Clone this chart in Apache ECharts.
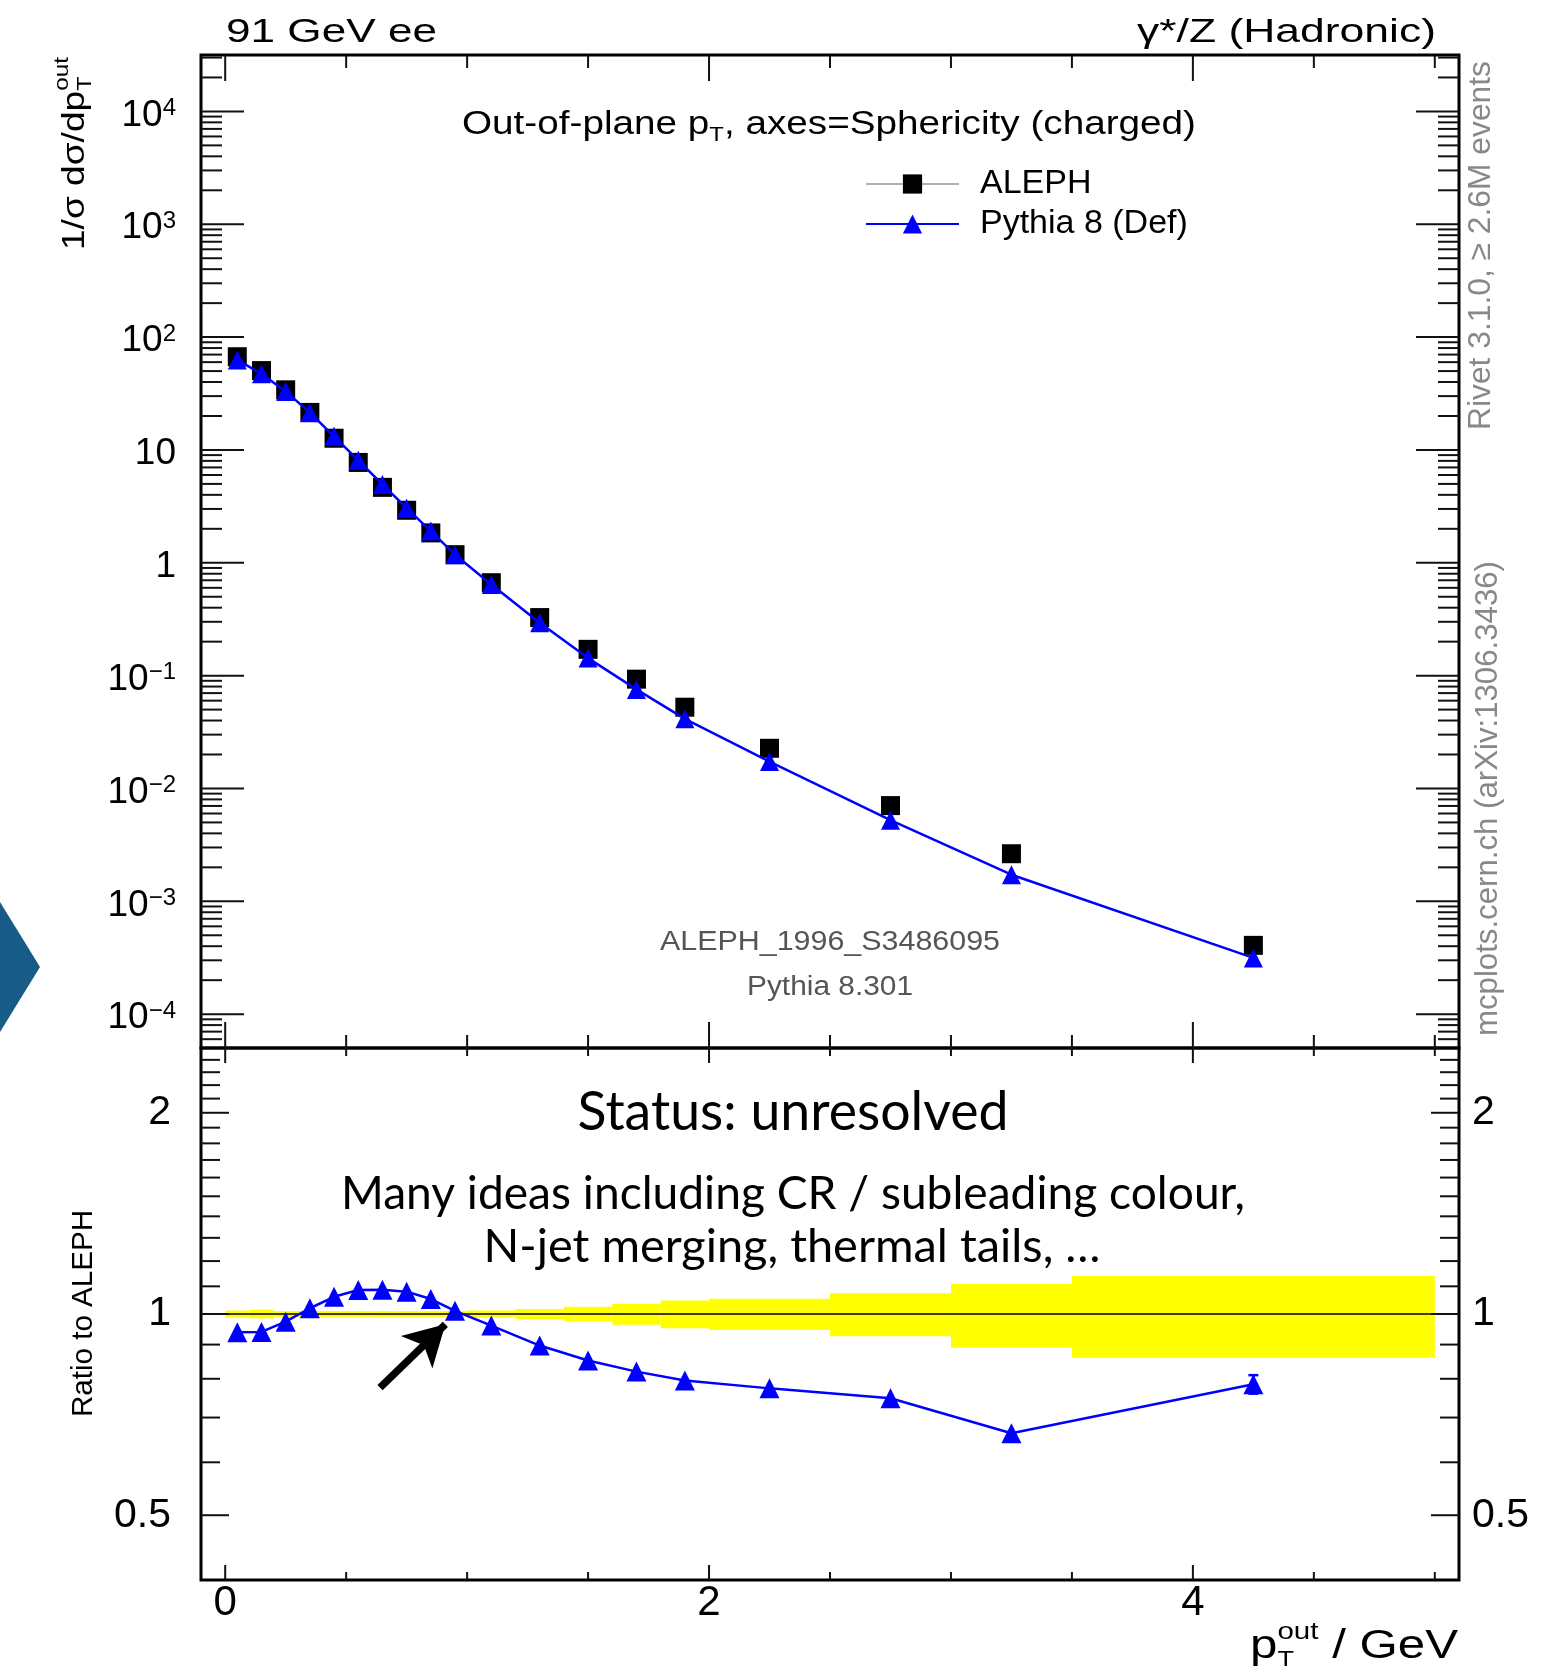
<!DOCTYPE html>
<html>
<head>
<meta charset="utf-8">
<title>Out-of-plane pT, ALEPH vs Pythia 8</title>
<script src="https://cdn.jsdelivr.net/npm/echarts@6/dist/echarts.min.js"></script>
<style>
  html, body { margin: 0; padding: 0; background: #fff; }
  #chart { width: 1553px; height: 1675px; }
</style>
</head>
<body>
<div id="chart"></div>
<script>
  // bins of p_T^out (GeV) and the points drawn at the bin centres
  const binEdges = [0, 0.1, 0.2, 0.3, 0.4, 0.5, 0.6, 0.7, 0.8, 0.9, 1.0, 1.2, 1.4, 1.6, 1.8, 2.0, 2.5, 3.0, 3.5, 5.0]
  const binCentres = [0.05, 0.15, 0.25, 0.35, 0.45, 0.55, 0.65, 0.75, 0.85, 0.95, 1.1, 1.3, 1.5, 1.7, 1.9, 2.25, 2.75, 3.25, 4.25]

  // 1/sigma dsigma/dpT
  const alephValues = [67, 50.5, 34.1, 21.5, 12.7, 7.75, 4.66, 2.92, 1.84, 1.18, 0.666, 0.327, 0.171, 0.093, 0.0525, 0.0227, 0.00705, 0.00264, 0.000407]
  const pythiaValues = [62.8, 47.3, 33.0, 21.4, 13.2, 8.1, 4.95, 3.05, 1.91, 1.18, 0.642, 0.294, 0.143, 0.0755, 0.0414, 0.0173, 0.00523, 0.00172, 0.000315]

  // ratio panel
  const ratioValues = [0.939, 0.940, 0.974, 1.02, 1.061, 1.086, 1.087, 1.080, 1.053, 1.011, 0.961, 0.897, 0.852, 0.820, 0.795, 0.774, 0.748, 0.663, 0.785]
  const ratioErrors = [0, 0, 0, 0, 0, 0, 0, 0, 0, 0, 0, 0, 0, 0, 0, 0, 0, 0, 0.025]
  const alephBand = [0.012, 0.015, 0.010, 0.010, 0.010, 0.010, 0.010, 0.010, 0.010, 0.010, 0.012, 0.017, 0.025, 0.036, 0.048, 0.054, 0.074, 0.11, 0.14]

  // tick labels
  const xTickLabels = [0, 2, 4]
  const ratioTickLabels = [0.5, 1, 2]

  // annotation arrow (data coords in the ratio panel)
  const arrowFrom = [0.64, 0.776]
  const arrowTo = [0.91, 0.965]

  const SANS = '"Liberation Sans", Arial, Helvetica, sans-serif'
  const SLIDE = 'Lato, "Open Sans", sans-serif'
  const BLUE = '#0000ff'

  const yMin = Math.pow(10, -4.3)
  const yMax = Math.pow(10, 4.5)

  // ---- tick lists (drawn on all four sides like the ROOT frame) ----
  function xTicks(majorLen, minorLen) {
    const out = []
    for (let i = 0; i <= 10; i++) {
      const v = i * 0.5
      out.push([v, 1, (i % 4 === 0) ? majorLen : minorLen, 0])
    }
    return out
  }
  function logTicks(lo, hi, majorLen, minorLen) {
    const out = []
    for (let e = -6; e <= 5; e++) {
      for (let k = 1; k <= 9; k++) {
        const v = k * Math.pow(10, e)
        if (v > lo * 1.001 && v < hi * 0.999) out.push([0, v, k === 1 ? majorLen : minorLen, 1])
      }
    }
    return out
  }
  const upperTicks = xTicks(26, 13).concat(logTicks(yMin, yMax, 43, 21))
  const lowerTicks = xTicks(15, 8)
  ;[0.5, 0.6, 0.7, 0.8, 0.9, 1, 1.1, 1.2, 1.3, 1.4, 1.5, 1.6, 1.7, 1.8, 1.9, 2, 2.1, 2.2, 2.3, 2.4].forEach(v => {
    lowerTicks.push([0, v, ratioTickLabels.indexOf(v) >= 0 ? 28 : 19, 1])
  })

  function renderTicks(params, api) {
    const cs = params.coordSys
    const len = api.value(2)
    const style = {stroke: '#111', lineWidth: 2}
    if (api.value(3) === 0) {
      const px = api.coord([api.value(0), 1])[0]
      return {
        type: 'group',
        children: [
          {type: 'line', shape: {x1: px, y1: cs.y, x2: px, y2: cs.y + len}, style: style},
          {type: 'line', shape: {x1: px, y1: cs.y + cs.height, x2: px, y2: cs.y + cs.height - len}, style: style}
        ]
      }
    }
    const py = api.coord([0, api.value(1)])[1]
    return {
      type: 'group',
      children: [
        {type: 'line', shape: {x1: cs.x, y1: py, x2: cs.x + len, y2: py}, style: style},
        {type: 'line', shape: {x1: cs.x + cs.width, y1: py, x2: cs.x + cs.width - len, y2: py}, style: style}
      ]
    }
  }

  function renderBand(params, api) {
    const p0 = api.coord([api.value(0), 1 + api.value(2)])
    const p1 = api.coord([api.value(1), 1 - api.value(2)])
    return {
      type: 'rect',
      shape: {x: p0[0], y: p0[1], width: p1[0] - p0[0], height: p1[1] - p0[1]},
      style: {fill: '#ffff00'}
    }
  }

  function renderErr(params, api) {
    const x = api.value(0), r = api.value(1), e = api.value(2)
    const top = api.coord([x, r + e])
    const bot = api.coord([x, r - e])
    const style = {stroke: BLUE, lineWidth: 2.5}
    return {
      type: 'group',
      children: [
        {type: 'line', shape: {x1: top[0], y1: top[1], x2: bot[0], y2: bot[1]}, style: style},
        {type: 'line', shape: {x1: top[0] - 5, y1: top[1], x2: top[0] + 5, y2: top[1]}, style: style},
        {type: 'line', shape: {x1: bot[0] - 5, y1: bot[1], x2: bot[0] + 5, y2: bot[1]}, style: style}
      ]
    }
  }

  // ---- text helper: runs of text with sub/superscripts, stretched to a width ----
  const measureCtx = document.createElement('canvas').getContext('2d')
  function measure(t, size, family) {
    measureCtx.font = size + 'px ' + family
    return measureCtx.measureText(t).width
  }
  function textRun(segs, o) {
    const fam = o.family || SANS
    const kids = []
    let x = 0
    segs.forEach(s => {
      const t = s[0], size = s[1], dy = s[2] || 0
      kids.push({
        type: 'text', x: x, y: dy,
        style: {text: t, font: size + 'px ' + fam, fill: o.color || '#000', align: 'left', verticalAlign: 'middle'}
      })
      x += (s[3] === undefined) ? measure(t, size, fam) : s[3]
    })
    const shift = o.align === 'center' ? -x / 2 : (o.align === 'right' ? -x : 0)
    kids.forEach(k => { k.x += shift })
    return {
      type: 'group', x: o.x, y: o.y, rotation: o.rotation || 0,
      scaleX: o.width ? o.width / x : 1, silent: true, children: kids
    }
  }

  const upperLabel = v => {
    const l = Math.log10(v)
    const e = Math.round(l)
    if (Math.abs(l - e) > 1e-6) return ''
    if (e === 0) return '{b|1}'
    if (e === 1) return '{b|10}'
    return '{b|10}{s|' + (e < 0 ? '\u2212' : '') + Math.abs(e) + '}'
  }
  const ratioLabel = v => {
    for (const t of ratioTickLabels) if (Math.abs(v - t) < 1e-6) return String(t)
    return ''
  }
  const xLabel = v => {
    for (const t of xTickLabels) if (Math.abs(v - t) < 1e-6) return String(t)
    return ''
  }

  const outW = measure('out', 24, SANS)
  const outWy = measure('out', 21, SANS)

  const chart = echarts.init(document.getElementById('chart'))
  chart.setOption({
    animation: false,
    backgroundColor: '#fff',
    grid: [
      {left: 201, top: 55, width: 1258, height: 993, show: true, borderColor: '#000', borderWidth: 3,
        backgroundColor: 'transparent', containLabel: false, outerBoundsMode: 'none'},
      {left: 201, top: 1048, width: 1258, height: 532, show: true, borderColor: '#000', borderWidth: 3,
        backgroundColor: 'transparent', containLabel: false, outerBoundsMode: 'none'}
    ],
    xAxis: [
      {gridIndex: 0, type: 'value', min: -0.1, max: 5.1,
        axisLine: {show: false}, axisTick: {show: false}, splitLine: {show: false}, axisLabel: {show: false}},
      {gridIndex: 1, type: 'value', min: -0.1, max: 5.1,
        axisLine: {show: false}, axisTick: {show: false}, splitLine: {show: false},
        axisLabel: {formatter: xLabel, interval: 0, margin: 2, fontFamily: SANS, fontSize: 42, color: '#000'}}
    ],
    yAxis: [
      {gridIndex: 0, type: 'log', logBase: 10, min: yMin, max: yMax,
        axisLine: {show: false}, axisTick: {show: false}, splitLine: {show: false},
        axisLabel: {
          formatter: upperLabel, interval: 0, margin: 25, padding: [8, 0, 0, 0],
          rich: {
            b: {fontFamily: SANS, fontSize: 37, color: '#000', lineHeight: 38},
            s: {fontFamily: SANS, fontSize: 24, color: '#000', lineHeight: 24, verticalAlign: 'top'}
          }
        }},
      {gridIndex: 1, type: 'log', logBase: 2, min: 0.4, max: 2.5,
        axisLine: {show: false}, axisTick: {show: false}, splitLine: {show: false},
        axisLabel: {formatter: ratioLabel, interval: 0, margin: 30, fontFamily: SANS, fontSize: 41, color: '#000'}},
      {gridIndex: 1, type: 'log', logBase: 2, min: 0.4, max: 2.5, position: 'right',
        axisLine: {show: false}, axisTick: {show: false}, splitLine: {show: false},
        axisLabel: {formatter: ratioLabel, interval: 0, margin: 13, fontFamily: SANS, fontSize: 41, color: '#000'}}
    ],
    legend: {
      orient: 'vertical', left: 865, top: 166, padding: 0, itemWidth: 93, itemHeight: 24, itemGap: 4,
      selectedMode: false,
      textStyle: {fontFamily: SANS, fontSize: 34, color: '#000', lineHeight: 36, padding: [0, 0, 0, 16]},
      data: [
        {name: 'ALEPH', lineStyle: {color: '#999', width: 1.5, opacity: 1}},
        {name: 'Pythia 8 (Def)'}
      ]
    },
    series: [
      {
        name: 'ALEPH', type: 'line', xAxisIndex: 0, yAxisIndex: 0, z: 4,
        data: binCentres.map((x, i) => [x, alephValues[i]]),
        symbol: 'rect', symbolSize: 19,
        itemStyle: {color: '#000'}, lineStyle: {opacity: 0}
      },
      {
        name: 'Pythia 8 (Def)', type: 'line', xAxisIndex: 0, yAxisIndex: 0, z: 5,
        data: binCentres.map((x, i) => [x, pythiaValues[i]]),
        symbol: 'triangle', symbolSize: 19,
        itemStyle: {color: BLUE}, lineStyle: {color: BLUE, width: 2.5}
      },
      {
        name: 'ticks upper', type: 'custom', xAxisIndex: 0, yAxisIndex: 0, z: 10, silent: true,
        renderItem: renderTicks, data: upperTicks
      },
      {
        name: 'ALEPH band', type: 'custom', xAxisIndex: 1, yAxisIndex: 1, z: 1, silent: true,
        renderItem: renderBand,
        data: alephBand.map((e, i) => [binEdges[i], binEdges[i + 1], e])
      },
      {
        name: 'ALEPH ref', type: 'line', xAxisIndex: 1, yAxisIndex: 1, z: 2, silent: true,
        data: [[binEdges[0], 1], [binEdges[binEdges.length - 1], 1]],
        symbol: 'none', lineStyle: {color: '#000', width: 1.5}
      },
      {
        name: 'Pythia ratio', type: 'line', xAxisIndex: 1, yAxisIndex: 1, z: 5,
        data: binCentres.map((x, i) => [x, ratioValues[i]]),
        symbol: 'triangle', symbolSize: 20,
        itemStyle: {color: BLUE}, lineStyle: {color: BLUE, width: 2.5},
        markLine: {
          silent: true, animation: false,
          symbol: ['none', 'arrow'], symbolSize: [34, 40],
          lineStyle: {color: '#000', width: 7.5, type: 'solid'},
          label: {show: false},
          data: [[{coord: arrowFrom}, {coord: arrowTo}]]
        }
      },
      {
        name: 'ratio errors', type: 'custom', xAxisIndex: 1, yAxisIndex: 1, z: 4, silent: true,
        renderItem: renderErr,
        data: binCentres.map((x, i) => [x, ratioValues[i], ratioErrors[i]]).filter(d => d[2] > 0)
      },
      {
        name: 'ticks lower', type: 'custom', xAxisIndex: 1, yAxisIndex: 1, z: 10, silent: true,
        renderItem: renderTicks, data: lowerTicks
      }
    ],
    graphic: [
      textRun([['91 GeV ee', 34]], {x: 226, y: 33, width: 211}),
      textRun([['\u03b3*/Z (Hadronic)', 34]], {x: 1436, y: 33, align: 'right', width: 299}),
      textRun([['Out-of-plane p', 34], ['T', 21, 10], [', axes=Sphericity (charged)', 34]], {x: 462, y: 125, width: 734}),
      textRun([['ALEPH_1996_S3486095', 27]], {x: 830, y: 943, align: 'center', width: 340, color: '#555'}),
      textRun([['Pythia 8.301', 27]], {x: 830, y: 988, align: 'center', width: 166, color: '#555'}),
      textRun([['Rivet 3.1.0, \u2265 2.6M events', 31]], {x: 1481, y: 430, rotation: Math.PI / 2, width: 369, color: '#888'}),
      textRun([['mcplots.cern.ch (arXiv:1306.3436)', 31]], {x: 1488, y: 1036, rotation: Math.PI / 2, width: 475, color: '#888'}),
      textRun([['1/\u03c3 d\u03c3/dp', 32], ['out', 21, -13, 0], ['T', 20, 10, outWy]], {x: 75, y: 250, rotation: Math.PI / 2, width: 193}),
      textRun([['Ratio to ALEPH', 29]], {x: 84, y: 1417, rotation: Math.PI / 2, width: 207}),
      textRun([['p', 40], ['out', 24, -15, 0], ['T', 22, 13, outW], [' / GeV', 40]], {x: 1458, y: 1647, align: 'right', width: 208}),
      textRun([['Status: unresolved', 54]], {x: 793, y: 1113, align: 'center', width: 431, family: SLIDE}),
      textRun([['Many ideas including CR / subleading colour,', 46]], {x: 793, y: 1194, align: 'center', width: 904, family: SLIDE}),
      textRun([['N-jet merging, thermal tails, \u2026', 46]], {x: 792, y: 1247, align: 'center', width: 617, family: SLIDE}),
      {type: 'polygon', silent: true, shape: {points: [[0, 902], [40, 967], [0, 1032]]}, style: {fill: '#175c86'}}
    ]
  })
</script>
</body>
</html>
